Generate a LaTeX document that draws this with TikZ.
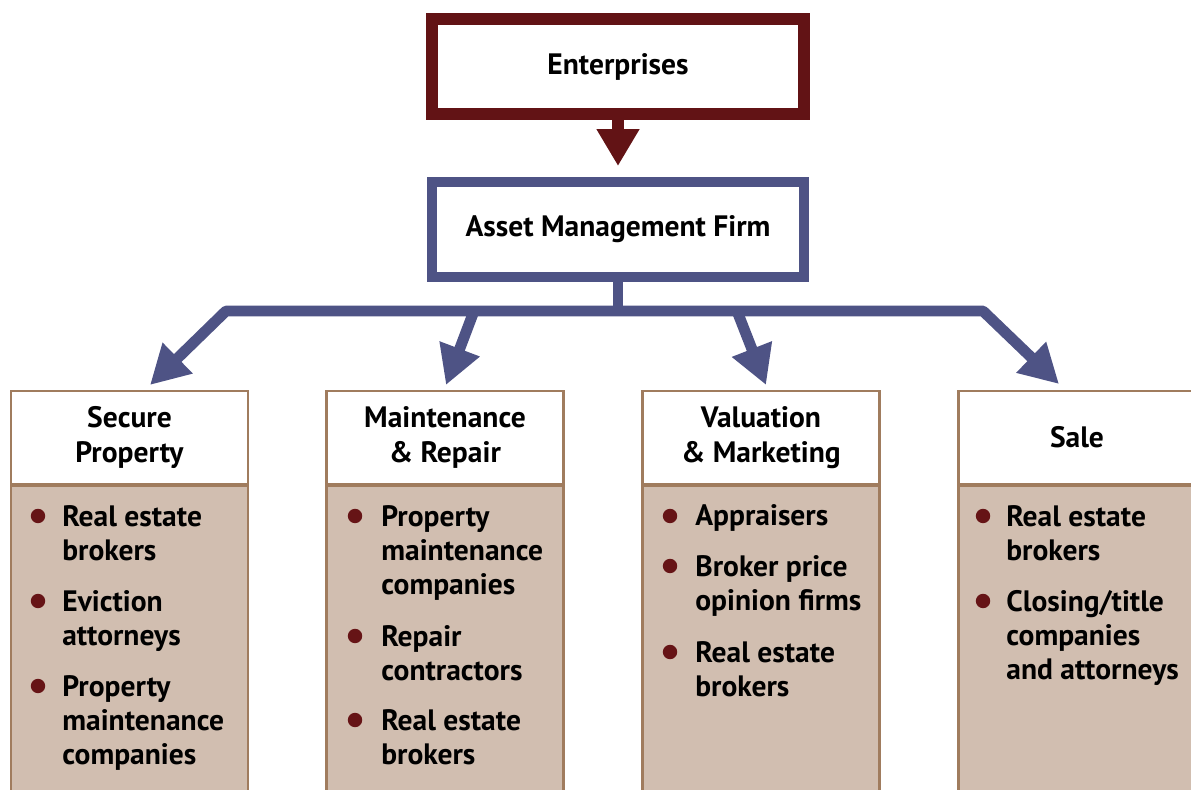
\documentclass[tikz,border=0pt]{standalone}
\usepackage{fontspec}
\setmainfont{PT Sans}
\usetikzlibrary{arrows.meta,positioning}

\definecolor{entred}{HTML}{621315}
\definecolor{amfblue}{HTML}{4E5385}
\definecolor{tanline}{HTML}{A07C5E}
\definecolor{tanfill}{HTML}{D1BEB0}
\definecolor{dotred}{HTML}{661416}

\newcommand{\boxfont}{\bfseries\fontsize{16.8}{19.6}\selectfont}

\begin{document}
\begin{tikzpicture}[x=0.02cm,y=-0.02cm,
    topbox/.style={draw, fill=white, minimum width=7.44cm, minimum height=1.9cm, inner sep=0pt, font=\boxfont},
    headbox/.style={draw=tanline, line width=1.2pt, fill=white, minimum width=4.74cm, minimum height=1.86cm, align=center, inner sep=0pt, font=\boxfont},
    bodybox/.style={draw=tanline, line width=1.2pt, fill=tanfill, minimum width=4.74cm, minimum height=6.8cm, anchor=north, inner sep=0pt},
    itemtext/.style={anchor=base west, align=left, inner sep=0pt, font=\boxfont},
    dot/.style={fill=dotred},
    redarrow/.style={draw=entred, line width=6.8pt, -{Triangle[width=23pt,length=21pt]}},
    blueline/.style={draw=amfblue, line width=6.2pt},
    bluearrow/.style={blueline, -{Triangle[width=23pt,length=22pt]}}]
        \useasboundingbox (0,0) rectangle (1191,790);

        % top of the chart
        \node[topbox, draw=entred, line width=6.8pt] (ent) at (618,66.5) {Enterprises};
        \node[topbox, draw=amfblue, line width=6.2pt] (amf) at (618,229.5) {Asset Management Firm};
        \draw[redarrow] (ent.south) -- ([yshift=6pt]amf.north);

        % the four columns
        \node[headbox] (sec) at (129.5,437.5) {Secure\\Property};
        \node[headbox] (mnt) at (445,437.5) {Maintenance\\\& Repair};
        \node[headbox] (val) at (761,437.5) {Valuation\\\& Marketing};
        \node[headbox] (sal) at (1077,437.5) {Sale};
        \node[bodybox] (secb) at (sec.south) {};
        \node[bodybox] (mntb) at (mnt.south) {};
        \node[bodybox] (valb) at (val.south) {};
        \node[bodybox] (salb) at (sal.south) {};

        % bus from the firm
        \coordinate (hub) at (618,311);
        \coordinate (busL) at (226,311);
        \coordinate (busR) at (983,311);
        \coordinate (j2) at (474,311);
        \coordinate (j3) at (737,311);
        \coordinate (t1) at (150,385);
        \coordinate (t2) at (446,385);
        \coordinate (t3) at (766,385);
        \coordinate (t4) at (1059,384);
        \draw[blueline] (amf.south) -- (hub);
        \draw[blueline, line join=bevel, {Triangle[width=23pt,length=22pt]}-{Triangle[width=23pt,length=22pt]}] (t1) -- (busL) -- (busR) -- (t4);
        \draw[bluearrow] (j2) -- (t2);
        \draw[bluearrow] (j3) -- (t3);

        % Secure Property (nodes sit on their last line)
        \fill[dot] (38,516) circle (4.1pt);
        \node[itemtext] (s1) at (62,560.5) {Real estate\\brokers};
        \fill[dot] (38,601) circle (4.1pt);
        \node[itemtext] (s2) at (62,645.5) {Eviction\\attorneys};
        \fill[dot] (38,686) circle (4.1pt);
        \node[itemtext] (s3) at (62,765) {Property\\maintenance\\companies};

        % Maintenance & Repair
        \fill[dot] (355,516) circle (4.1pt);
        \node[itemtext] (m1) at (381,595) {Property\\maintenance\\companies};
        \fill[dot] (355,636) circle (4.1pt);
        \node[itemtext] (m2) at (381,680.5) {Repair\\contractors};
        \fill[dot] (355,720) circle (4.1pt);
        \node[itemtext] (m3) at (381,764.5) {Real estate\\brokers};

        % Valuation & Marketing
        \fill[dot] (670,516) circle (4.1pt);
        \node[itemtext] (v1) at (695,526) {Appraisers};
        \fill[dot] (670,566) circle (4.1pt);
        \node[itemtext] (v2) at (695,610.5) {Broker price\\opinion firms};
        \fill[dot] (670,652) circle (4.1pt);
        \node[itemtext] (v3) at (695,696.5) {Real estate\\brokers};

        % Sale
        \fill[dot] (983,516) circle (4.1pt);
        \node[itemtext] (a1) at (1006,560.5) {Real estate\\brokers};
        \fill[dot] (983,601) circle (4.1pt);
        \node[itemtext] (a2) at (1006,680) {Closing/title\\companies\\and attorneys};
    \end{tikzpicture}
\end{document}
